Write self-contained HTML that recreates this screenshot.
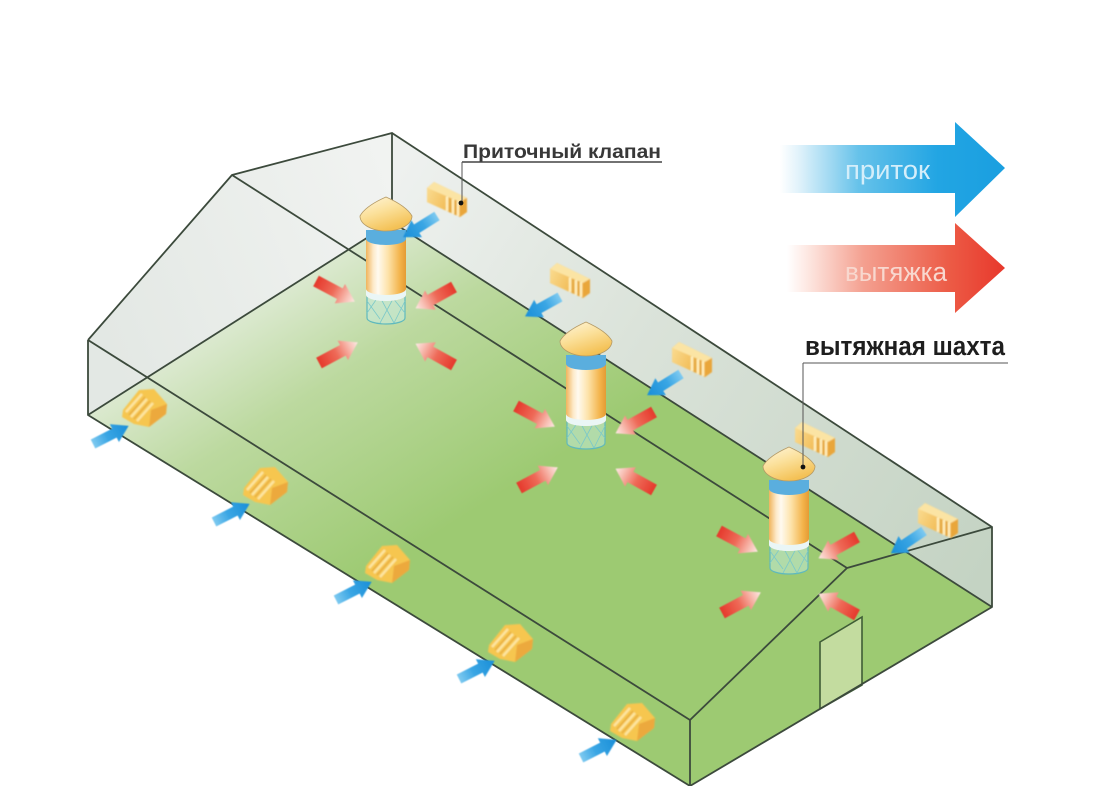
<!DOCTYPE html>
<html><head><meta charset="utf-8">
<style>
html,body{margin:0;padding:0;background:#fff;}
svg{display:block;}
text{font-family:"Liberation Sans","DejaVu Sans",sans-serif;}
</style></head>
<body>
<svg width="1117" height="786" viewBox="0 0 1117 786" xmlns="http://www.w3.org/2000/svg">
<defs>
  <filter id="soft" x="-20%" y="-20%" width="140%" height="140%"><feGaussianBlur stdDeviation="0.7"/></filter>
  <filter id="soft2" x="-20%" y="-20%" width="140%" height="140%"><feGaussianBlur stdDeviation="0.45"/></filter>
  <linearGradient id="floorg" gradientUnits="userSpaceOnUse" x1="88" y1="415" x2="242" y2="658">
    <stop offset="0" stop-color="#dbe9cf"/>
    <stop offset="0.35" stop-color="#bcd99f"/>
    <stop offset="1" stop-color="#9dca72"/>
  </linearGradient>
  <linearGradient id="gableg" gradientUnits="userSpaceOnUse" x1="88" y1="300" x2="392" y2="180">
    <stop offset="0" stop-color="#e3e8e4"/>
    <stop offset="1" stop-color="#f1f3f1"/>
  </linearGradient>
  <linearGradient id="wallg" gradientUnits="userSpaceOnUse" x1="392" y1="180" x2="992" y2="560">
    <stop offset="0" stop-color="#eef1ef"/>
    <stop offset="0.4" stop-color="#dbe3da"/>
    <stop offset="1" stop-color="#c4d3c3"/>
  </linearGradient>
  <linearGradient id="redg" x1="0" y1="0" x2="1" y2="0">
    <stop offset="0" stop-color="#e5392c"/>
    <stop offset="0.45" stop-color="#ee6a58"/>
    <stop offset="0.8" stop-color="#f8c0b5"/>
    <stop offset="1" stop-color="#fdeae5"/>
  </linearGradient>
  <linearGradient id="blueg" x1="0" y1="0" x2="1" y2="0">
    <stop offset="0" stop-color="#7fcaf0"/>
    <stop offset="0.4" stop-color="#3aa6e4"/>
    <stop offset="1" stop-color="#1a8ed8"/>
  </linearGradient>
  <linearGradient id="bodyg" x1="0" y1="0" x2="1" y2="0">
    <stop offset="0" stop-color="#f0b45c"/>
    <stop offset="0.18" stop-color="#fde9c8"/>
    <stop offset="0.3" stop-color="#fffaf0"/>
    <stop offset="0.55" stop-color="#fde3aa"/>
    <stop offset="0.85" stop-color="#f3b34a"/>
    <stop offset="1" stop-color="#e49b34"/>
  </linearGradient>
  <linearGradient id="capg" x1="0" y1="0" x2="0.5" y2="1">
    <stop offset="0" stop-color="#fff6dc"/>
    <stop offset="0.5" stop-color="#fbe09a"/>
    <stop offset="1" stop-color="#f4c155"/>
  </linearGradient>
  <linearGradient id="valg" x1="0" y1="0" x2="1" y2="0.4">
    <stop offset="0" stop-color="#fadb90"/>
    <stop offset="1" stop-color="#efb346"/>
  </linearGradient>
  <linearGradient id="legb" gradientUnits="userSpaceOnUse" x1="780" y1="0" x2="1005" y2="0">
    <stop offset="0" stop-color="#ffffff"/>
    <stop offset="0.08" stop-color="#e2f3fb"/>
    <stop offset="0.35" stop-color="#66c2ea"/>
    <stop offset="0.7" stop-color="#22a5e3"/>
    <stop offset="1" stop-color="#1a9fe0"/>
  </linearGradient>
  <linearGradient id="legr" gradientUnits="userSpaceOnUse" x1="787" y1="0" x2="1005" y2="0">
    <stop offset="0" stop-color="#ffffff"/>
    <stop offset="0.1" stop-color="#fde6e0"/>
    <stop offset="0.35" stop-color="#f4a090"/>
    <stop offset="0.75" stop-color="#ec5a45"/>
    <stop offset="1" stop-color="#e8382c"/>
  </linearGradient>

  <g id="ra"><path d="M0,-6 L27,-6 L27,-11 L44,0 L27,11 L27,6 L0,6 Z" fill="url(#redg)" filter="url(#soft2)"/></g>
  <g id="ba"><path d="M0,-5 L24,-5 L24,-10 L40,0 L24,10 L24,5 L0,5 Z" fill="url(#blueg)" filter="url(#soft2)"/></g>

  <g id="fv" filter="url(#soft)">
    <path d="M-20,-12 L-13,-18 L20,-2 L20,12 L13,17 L-20,2 Z" fill="#f3c258"/>
    <path d="M-20,-12 L-13,-18 L20,-2 L13,2 Z" fill="#fbe4a4"/>
    <path d="M-20,-12 L13,2 L13,17 L-20,2 Z" fill="url(#valg)"/>
    <path d="M13,2 L20,-2 L20,12 L13,17 Z" fill="#e9a63a"/>
    <path d="M0,-3.5 L0,11 M6,-1 L6,14 M11,1 L11,16" stroke="#fff0c0" stroke-width="2.4"/>
    <path d="M3,-2 L3,12.5 M8.5,0 L8.5,15" stroke="#dc9c30" stroke-width="1.2"/>
  </g>
  <g id="nv" filter="url(#soft)">
    <path d="M-22,2 L-6,-18 L9,-19 L22,-4 L21,6 L4,19 L-11,16 L-23,9 Z" fill="#f6c650"/>
    <path d="M6,2 L22,-4 L21,6 L4,19 Z" fill="#eca93c"/>
    <path d="M-19,4 L-3,-14 M-14,9 L2,-9 M-8,13 L8,-5" stroke="#fde5a0" stroke-width="2.5"/>
    <path d="M-16,7 L0,-11 M-11,11 L5,-7" stroke="#e3a43e" stroke-width="1"/>
  </g>

  <g id="pil">
    <path d="M-19,98 L-19,121 A19,6 0 0 0 19,121 L19,98" fill="#c6ebe0" fill-opacity="0.5" stroke="#5fb9bd" stroke-width="1.2"/>
    <path d="M-19,104 L-6,122 M-6,100 L8,126 M6,100 L19,116 M-19,116 L-8,100 M-6,126 L8,100 M8,126 L19,104" stroke="#7cc9c9" stroke-width="0.8" fill="none"/>
    <path d="M-20,42 L-20,98 A20,6 0 0 0 20,98 L20,42 Z" fill="url(#bodyg)"/>
    <path d="M-20,92 L-20,98 A20,6 0 0 0 20,98 L20,92 A20,6 0 0 1 -20,92 Z" fill="#eaf6f6"/>
    <path d="M-20,33 L-20,42 A20,6 0 0 0 20,42 L20,33 Z" fill="#5aaede"/>
    <path d="M0,0 C-9,4 -21,10 -26,19 A26,15 0 0 0 26,19 C21,10 9,4 0,0 Z" fill="url(#capg)" stroke="#b49a66" stroke-width="0.8"/>
  </g>
</defs>

<rect width="1117" height="786" fill="#ffffff"/>

<!-- far gable wall & far long wall -->
<polygon points="88,415 88,340 232,175 392,133 392,222" fill="url(#gableg)"/>
<polygon points="392,133 992,527 992,607 392,222" fill="url(#wallg)"/>
<!-- floor -->
<polygon points="88,415 392,222 992,607 690,786" fill="url(#floorg)"/>
<!-- door -->
<polygon points="820,642 862,617 862,685 820,709" fill="#c3dc9f" stroke="#3f5d36" stroke-width="1.6"/>

<!-- structure lines -->
<g stroke="#3c4a3c" stroke-width="1.8" fill="none" stroke-linejoin="round">
  <path d="M88,340 L232,175 L392,133 L392,222"/>
  <path d="M88,340 L88,415 L392,222"/>
  <path d="M232,175 L847,568"/>
  <path d="M392,133 L992,527"/>
  <path d="M392,222 L992,607"/>
  <path d="M88,340 L690,720"/>
  <path d="M88,415 L690,786"/>
  <path d="M690,720 L847,568 L992,527 L992,607 L690,786 L690,720"/>
</g>

<!-- red arrows pillar 1 (base 388,312) -->
<use href="#ra" transform="translate(316,281) rotate(28)"/>
<use href="#ra" transform="translate(454,287) rotate(151)"/>
<use href="#ra" transform="translate(319,363) rotate(-28)"/>
<use href="#ra" transform="translate(454,365) rotate(-151)"/>
<!-- pillar 2 (588,437) -->
<use href="#ra" transform="translate(516,406) rotate(28)"/>
<use href="#ra" transform="translate(654,412) rotate(151)"/>
<use href="#ra" transform="translate(519,488) rotate(-28)"/>
<use href="#ra" transform="translate(654,490) rotate(-151)"/>
<!-- pillar 3 (791,562) -->
<use href="#ra" transform="translate(719,531) rotate(28)"/>
<use href="#ra" transform="translate(857,537) rotate(151)"/>
<use href="#ra" transform="translate(722,613) rotate(-28)"/>
<use href="#ra" transform="translate(857,615) rotate(-151)"/>

<!-- far valves -->
<use href="#fv" transform="translate(447,200)"/>
<use href="#fv" transform="translate(570,281)"/>
<use href="#fv" transform="translate(692,360)"/>
<use href="#fv" transform="translate(815,440)"/>
<use href="#fv" transform="translate(938,521)"/>
<!-- near valves -->
<use href="#nv" transform="translate(145,408)"/>
<use href="#nv" transform="translate(266,486)"/>
<use href="#nv" transform="translate(388,564)"/>
<use href="#nv" transform="translate(511,643)"/>
<use href="#nv" transform="translate(633,722)"/>

<!-- pillars -->
<use href="#pil" transform="translate(386,197)"/>
<use href="#pil" transform="translate(586,322)"/>
<use href="#pil" transform="translate(789,447)"/>

<!-- blue arrows near wall -->
<use href="#ba" transform="translate(93,444) rotate(-27)"/>
<use href="#ba" transform="translate(214,522) rotate(-27)"/>
<use href="#ba" transform="translate(336,600) rotate(-27)"/>
<use href="#ba" transform="translate(459,679) rotate(-27)"/>
<use href="#ba" transform="translate(581,758) rotate(-27)"/>
<!-- blue arrows far wall -->
<use href="#ba" transform="translate(437,216) rotate(148)"/>
<use href="#ba" transform="translate(560,297) rotate(151)"/>
<use href="#ba" transform="translate(681,374) rotate(148)"/>
<use href="#ba" transform="translate(924,531) rotate(146)"/>

<!-- label: Приточный клапан -->
<text x="463" y="158" font-size="19" font-weight="bold" fill="#383838" textLength="198" lengthAdjust="spacingAndGlyphs">Приточный клапан</text>
<line x1="462" y1="162" x2="662" y2="162" stroke="#444" stroke-width="1.4"/>
<line x1="462" y1="162" x2="462" y2="202" stroke="#555" stroke-width="1"/>
<circle cx="461" cy="203" r="2.4" fill="#111"/>

<!-- label: вытяжная шахта -->
<text x="805" y="355" font-size="27" font-weight="bold" fill="#1e1e1e" textLength="200" lengthAdjust="spacingAndGlyphs">вытяжная шахта</text>
<line x1="803" y1="363" x2="1008" y2="363" stroke="#777" stroke-width="1.2"/>
<line x1="803" y1="363" x2="803" y2="467" stroke="#555" stroke-width="1"/>
<circle cx="803" cy="467" r="2.4" fill="#111"/>

<!-- legend arrows -->
<polygon points="780,145 955,145 955,122 1005,168 955,217 955,193 780,193" fill="url(#legb)"/>
<text x="845" y="179" font-size="27" fill="#d4eefa" textLength="85" lengthAdjust="spacingAndGlyphs">приток</text>
<polygon points="787,245 955,245 955,223 1005,268 955,313 955,292 787,292" fill="url(#legr)"/>
<text x="845" y="281" font-size="27" fill="#f8d8cf" textLength="102" lengthAdjust="spacingAndGlyphs">вытяжка</text>
</svg>
</body></html>
